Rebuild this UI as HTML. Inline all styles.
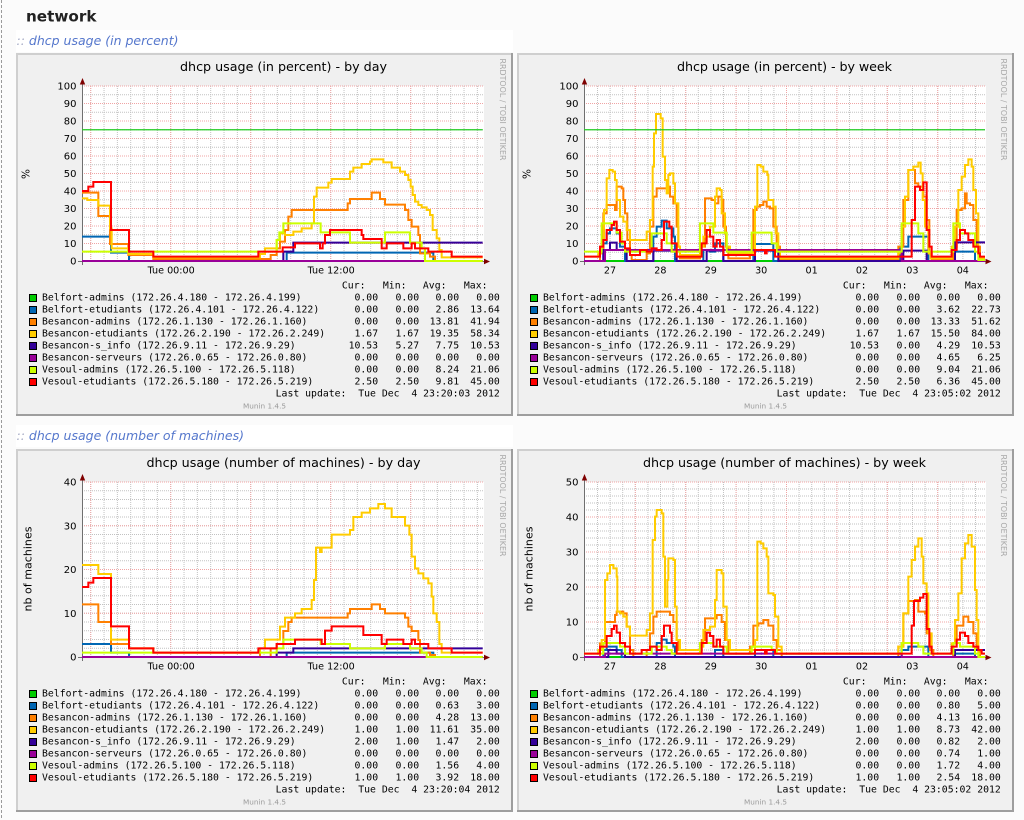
<!DOCTYPE html>
<html><head><meta charset="utf-8">
<style>
html,body{margin:0;padding:0;background:#fbfbfb;width:1024px;height:820px;overflow:hidden}
svg{display:block}
</style></head>
<body>
<svg width="1024" height="820" viewBox="0 0 1024 820" xmlns="http://www.w3.org/2000/svg">
<defs>
<pattern id="pv" patternUnits="userSpaceOnUse" x="0" y="0" width="8" height="2"><rect x="0" y="0" width="8" height="1" fill="#fff"/></pattern>
<pattern id="ph" patternUnits="userSpaceOnUse" x="0" y="0" width="2" height="8"><rect x="0" y="0" width="1" height="8" fill="#fff"/></pattern>
<mask id="mv" maskUnits="userSpaceOnUse" x="0" y="0" width="1024" height="820"><rect width="1024" height="820" fill="url(#pv)"/></mask>
<mask id="mh" maskUnits="userSpaceOnUse" x="0" y="0" width="1024" height="820"><rect width="1024" height="820" fill="url(#ph)"/></mask>
</defs>

<!-- page -->
<line x1="1.5" y1="0" x2="1.5" y2="820" stroke="#9a9a9a" stroke-dasharray="3 2"/>
<text x="26" y="21.7" font-family="'DejaVu Sans','Liberation Sans',sans-serif" font-weight="bold" font-size="15.2" fill="#222">network</text>
<rect x="16" y="30" width="497" height="22" fill="#fff"/>
<rect x="16" y="425" width="497" height="22" fill="#fff"/>
<text x="16.5" y="45" font-family="'DejaVu Sans','Liberation Sans',sans-serif" font-style="italic" font-size="12.5"><tspan fill="#a4aac4">::&#160;</tspan><tspan fill="#5577cc">dhcp usage (in percent)</tspan></text>
<text x="16.5" y="440" font-family="'DejaVu Sans','Liberation Sans',sans-serif" font-style="italic" font-size="12.5"><tspan fill="#a4aac4">::&#160;</tspan><tspan fill="#5577cc">dhcp usage (number of machines)</tspan></text>

<!-- ============ FRAMES + LEGENDS ============ -->
<g id="frameA" transform="translate(16,53)">
<rect width="497" height="363" fill="#f0f0f0"/>
<rect width="497" height="2" fill="#cfcfcf"/><rect width="2" height="363" fill="#cfcfcf"/>
<rect y="361" width="497" height="2" fill="#9e9e9e"/><rect x="495" width="2" height="363" fill="#9e9e9e"/>
<text x="267.5" y="18" text-anchor="middle" font-family="'DejaVu Sans','Liberation Sans',sans-serif" font-size="12.7" textLength="207" fill="#000">dhcp usage (in percent) - by day</text>
<text transform="translate(484,5.5) rotate(90)" font-family="'DejaVu Sans','Liberation Sans',sans-serif" font-size="7.9" textLength="102" fill="#a8a8a8">RRDTOOL / TOBI OETIKER</text>
<text transform="translate(13.3,121) rotate(-90)" text-anchor="middle" font-family="'DejaVu Sans','Liberation Sans',sans-serif" font-size="10.5" fill="#000">%</text>
<g font-family="'DejaVu Sans Mono','Liberation Mono',monospace" font-size="9.8" fill="#000">
<text y="235.7" text-anchor="end"><tspan x="349.5">Cur:</tspan><tspan x="390.5">Min:</tspan><tspan x="430.5">Avg:</tspan><tspan x="471.5">Max:</tspan></text>
<g stroke="#000" stroke-width="1">
<rect x="13.5" y="241.5" width="7" height="7" fill="#00cc00"/>
<rect x="13.5" y="253.5" width="7" height="7" fill="#0066b3"/>
<rect x="13.5" y="265.5" width="7" height="7" fill="#ff8000"/>
<rect x="13.5" y="277.5" width="7" height="7" fill="#ffcc00"/>
<rect x="13.5" y="289.5" width="7" height="7" fill="#330099"/>
<rect x="13.5" y="301.5" width="7" height="7" fill="#990099"/>
<rect x="13.5" y="313.5" width="7" height="7" fill="#ccff00"/>
<rect x="13.5" y="325.5" width="7" height="7" fill="#ff0000"/>
</g>
<text x="26" y="247.7">Belfort-admins (172.26.4.180 - 172.26.4.199)</text>
<text x="26" y="259.7">Belfort-etudiants (172.26.4.101 - 172.26.4.122)</text>
<text x="26" y="271.7">Besancon-admins (172.26.1.130 - 172.26.1.160)</text>
<text x="26" y="283.7">Besancon-etudiants (172.26.2.190 - 172.26.2.249)</text>
<text x="26" y="295.7">Besancon-s_info (172.26.9.11 - 172.26.9.29)</text>
<text x="26" y="307.7">Besancon-serveurs (172.26.0.65 - 172.26.0.80)</text>
<text x="26" y="319.7">Vesoul-admins (172.26.5.100 - 172.26.5.118)</text>
<text x="26" y="331.7">Vesoul-etudiants (172.26.5.180 - 172.26.5.219)</text>
<g text-anchor="end">
<text y="247.7"><tspan x="362.1">0.00</tspan><tspan x="403.1">0.00</tspan><tspan x="443.1">0.00</tspan><tspan x="483.8">0.00</tspan></text>
<text y="259.7"><tspan x="362.1">0.00</tspan><tspan x="403.1">0.00</tspan><tspan x="443.1">2.86</tspan><tspan x="483.8">13.64</tspan></text>
<text y="271.7"><tspan x="362.1">0.00</tspan><tspan x="403.1">0.00</tspan><tspan x="443.1">13.81</tspan><tspan x="483.8">41.94</tspan></text>
<text y="283.7"><tspan x="362.1">1.67</tspan><tspan x="403.1">1.67</tspan><tspan x="443.1">19.35</tspan><tspan x="483.8">58.34</tspan></text>
<text y="295.7"><tspan x="362.1">10.53</tspan><tspan x="403.1">5.27</tspan><tspan x="443.1">7.75</tspan><tspan x="483.8">10.53</tspan></text>
<text y="307.7"><tspan x="362.1">0.00</tspan><tspan x="403.1">0.00</tspan><tspan x="443.1">0.00</tspan><tspan x="483.8">0.00</tspan></text>
<text y="319.7"><tspan x="362.1">0.00</tspan><tspan x="403.1">0.00</tspan><tspan x="443.1">8.24</tspan><tspan x="483.8">21.06</tspan></text>
<text y="331.7"><tspan x="362.1">2.50</tspan><tspan x="403.1">2.50</tspan><tspan x="443.1">9.81</tspan><tspan x="483.8">45.00</tspan></text>
<text x="483.8" y="343.7">Last update:&#160;&#160;Tue Dec&#160;&#160;4 23:20:03 2012</text>
</g>
</g>
<text x="248.5" y="355.3" text-anchor="middle" font-family="'DejaVu Sans','Liberation Sans',sans-serif" font-size="7.3" fill="#9a9a9a">Munin 1.4.5</text>
</g>

<g id="frameB" transform="translate(517,53)">
<rect width="497" height="363" fill="#f0f0f0"/>
<rect width="497" height="2" fill="#cfcfcf"/><rect width="2" height="363" fill="#cfcfcf"/>
<rect y="361" width="497" height="2" fill="#9e9e9e"/><rect x="495" width="2" height="363" fill="#9e9e9e"/>
<text x="267.5" y="18" text-anchor="middle" font-family="'DejaVu Sans','Liberation Sans',sans-serif" font-size="12.7" textLength="215" fill="#000">dhcp usage (in percent) - by week</text>
<text transform="translate(484,5.5) rotate(90)" font-family="'DejaVu Sans','Liberation Sans',sans-serif" font-size="7.9" textLength="102" fill="#a8a8a8">RRDTOOL / TOBI OETIKER</text>
<text transform="translate(13.3,121) rotate(-90)" text-anchor="middle" font-family="'DejaVu Sans','Liberation Sans',sans-serif" font-size="10.5" fill="#000">%</text>
<g font-family="'DejaVu Sans Mono','Liberation Mono',monospace" font-size="9.8" fill="#000">
<text y="235.7" text-anchor="end"><tspan x="349.5">Cur:</tspan><tspan x="390.5">Min:</tspan><tspan x="430.5">Avg:</tspan><tspan x="471.5">Max:</tspan></text>
<g stroke="#000" stroke-width="1">
<rect x="13.5" y="241.5" width="7" height="7" fill="#00cc00"/>
<rect x="13.5" y="253.5" width="7" height="7" fill="#0066b3"/>
<rect x="13.5" y="265.5" width="7" height="7" fill="#ff8000"/>
<rect x="13.5" y="277.5" width="7" height="7" fill="#ffcc00"/>
<rect x="13.5" y="289.5" width="7" height="7" fill="#330099"/>
<rect x="13.5" y="301.5" width="7" height="7" fill="#990099"/>
<rect x="13.5" y="313.5" width="7" height="7" fill="#ccff00"/>
<rect x="13.5" y="325.5" width="7" height="7" fill="#ff0000"/>
</g>
<text x="26" y="247.7">Belfort-admins (172.26.4.180 - 172.26.4.199)</text>
<text x="26" y="259.7">Belfort-etudiants (172.26.4.101 - 172.26.4.122)</text>
<text x="26" y="271.7">Besancon-admins (172.26.1.130 - 172.26.1.160)</text>
<text x="26" y="283.7">Besancon-etudiants (172.26.2.190 - 172.26.2.249)</text>
<text x="26" y="295.7">Besancon-s_info (172.26.9.11 - 172.26.9.29)</text>
<text x="26" y="307.7">Besancon-serveurs (172.26.0.65 - 172.26.0.80)</text>
<text x="26" y="319.7">Vesoul-admins (172.26.5.100 - 172.26.5.118)</text>
<text x="26" y="331.7">Vesoul-etudiants (172.26.5.180 - 172.26.5.219)</text>
<g text-anchor="end">
<text y="247.7"><tspan x="362.1">0.00</tspan><tspan x="403.1">0.00</tspan><tspan x="443.1">0.00</tspan><tspan x="483.8">0.00</tspan></text>
<text y="259.7"><tspan x="362.1">0.00</tspan><tspan x="403.1">0.00</tspan><tspan x="443.1">3.62</tspan><tspan x="483.8">22.73</tspan></text>
<text y="271.7"><tspan x="362.1">0.00</tspan><tspan x="403.1">0.00</tspan><tspan x="443.1">13.33</tspan><tspan x="483.8">51.62</tspan></text>
<text y="283.7"><tspan x="362.1">1.67</tspan><tspan x="403.1">1.67</tspan><tspan x="443.1">15.50</tspan><tspan x="483.8">84.00</tspan></text>
<text y="295.7"><tspan x="362.1">10.53</tspan><tspan x="403.1">0.00</tspan><tspan x="443.1">4.29</tspan><tspan x="483.8">10.53</tspan></text>
<text y="307.7"><tspan x="362.1">0.00</tspan><tspan x="403.1">0.00</tspan><tspan x="443.1">4.65</tspan><tspan x="483.8">6.25</tspan></text>
<text y="319.7"><tspan x="362.1">0.00</tspan><tspan x="403.1">0.00</tspan><tspan x="443.1">9.04</tspan><tspan x="483.8">21.06</tspan></text>
<text y="331.7"><tspan x="362.1">2.50</tspan><tspan x="403.1">2.50</tspan><tspan x="443.1">6.36</tspan><tspan x="483.8">45.00</tspan></text>
<text x="483.8" y="343.7">Last update:&#160;&#160;Tue Dec&#160;&#160;4 23:05:02 2012</text>
</g>
</g>
<text x="248.5" y="355.3" text-anchor="middle" font-family="'DejaVu Sans','Liberation Sans',sans-serif" font-size="7.3" fill="#9a9a9a">Munin 1.4.5</text>
</g>

<g id="frameC" transform="translate(16,449)">
<rect width="497" height="363" fill="#f0f0f0"/>
<rect width="497" height="2" fill="#cfcfcf"/><rect width="2" height="363" fill="#cfcfcf"/>
<rect y="361" width="497" height="2" fill="#9e9e9e"/><rect x="495" width="2" height="363" fill="#9e9e9e"/>
<text x="267.5" y="18" text-anchor="middle" font-family="'DejaVu Sans','Liberation Sans',sans-serif" font-size="12.7" textLength="274" fill="#000">dhcp usage (number of machines) - by day</text>
<text transform="translate(484,5.5) rotate(90)" font-family="'DejaVu Sans','Liberation Sans',sans-serif" font-size="7.9" textLength="102" fill="#a8a8a8">RRDTOOL / TOBI OETIKER</text>
<text transform="translate(15.7,120) rotate(-90)" text-anchor="middle" font-family="'DejaVu Sans','Liberation Sans',sans-serif" font-size="11" textLength="85" fill="#000">nb of machines</text>
<g font-family="'DejaVu Sans Mono','Liberation Mono',monospace" font-size="9.8" fill="#000">
<text y="235.7" text-anchor="end"><tspan x="349.5">Cur:</tspan><tspan x="390.5">Min:</tspan><tspan x="430.5">Avg:</tspan><tspan x="471.5">Max:</tspan></text>
<g stroke="#000" stroke-width="1">
<rect x="13.5" y="241.5" width="7" height="7" fill="#00cc00"/>
<rect x="13.5" y="253.5" width="7" height="7" fill="#0066b3"/>
<rect x="13.5" y="265.5" width="7" height="7" fill="#ff8000"/>
<rect x="13.5" y="277.5" width="7" height="7" fill="#ffcc00"/>
<rect x="13.5" y="289.5" width="7" height="7" fill="#330099"/>
<rect x="13.5" y="301.5" width="7" height="7" fill="#990099"/>
<rect x="13.5" y="313.5" width="7" height="7" fill="#ccff00"/>
<rect x="13.5" y="325.5" width="7" height="7" fill="#ff0000"/>
</g>
<text x="26" y="247.7">Belfort-admins (172.26.4.180 - 172.26.4.199)</text>
<text x="26" y="259.7">Belfort-etudiants (172.26.4.101 - 172.26.4.122)</text>
<text x="26" y="271.7">Besancon-admins (172.26.1.130 - 172.26.1.160)</text>
<text x="26" y="283.7">Besancon-etudiants (172.26.2.190 - 172.26.2.249)</text>
<text x="26" y="295.7">Besancon-s_info (172.26.9.11 - 172.26.9.29)</text>
<text x="26" y="307.7">Besancon-serveurs (172.26.0.65 - 172.26.0.80)</text>
<text x="26" y="319.7">Vesoul-admins (172.26.5.100 - 172.26.5.118)</text>
<text x="26" y="331.7">Vesoul-etudiants (172.26.5.180 - 172.26.5.219)</text>
<g text-anchor="end">
<text y="247.7"><tspan x="362.1">0.00</tspan><tspan x="403.1">0.00</tspan><tspan x="443.1">0.00</tspan><tspan x="483.8">0.00</tspan></text>
<text y="259.7"><tspan x="362.1">0.00</tspan><tspan x="403.1">0.00</tspan><tspan x="443.1">0.63</tspan><tspan x="483.8">3.00</tspan></text>
<text y="271.7"><tspan x="362.1">0.00</tspan><tspan x="403.1">0.00</tspan><tspan x="443.1">4.28</tspan><tspan x="483.8">13.00</tspan></text>
<text y="283.7"><tspan x="362.1">1.00</tspan><tspan x="403.1">1.00</tspan><tspan x="443.1">11.61</tspan><tspan x="483.8">35.00</tspan></text>
<text y="295.7"><tspan x="362.1">2.00</tspan><tspan x="403.1">1.00</tspan><tspan x="443.1">1.47</tspan><tspan x="483.8">2.00</tspan></text>
<text y="307.7"><tspan x="362.1">0.00</tspan><tspan x="403.1">0.00</tspan><tspan x="443.1">0.00</tspan><tspan x="483.8">0.00</tspan></text>
<text y="319.7"><tspan x="362.1">0.00</tspan><tspan x="403.1">0.00</tspan><tspan x="443.1">1.56</tspan><tspan x="483.8">4.00</tspan></text>
<text y="331.7"><tspan x="362.1">1.00</tspan><tspan x="403.1">1.00</tspan><tspan x="443.1">3.92</tspan><tspan x="483.8">18.00</tspan></text>
<text x="483.8" y="343.7">Last update:&#160;&#160;Tue Dec&#160;&#160;4 23:20:04 2012</text>
</g>
</g>
<text x="248.5" y="355.3" text-anchor="middle" font-family="'DejaVu Sans','Liberation Sans',sans-serif" font-size="7.3" fill="#9a9a9a">Munin 1.4.5</text>
</g>

<g id="frameD" transform="translate(517,449)">
<rect width="497" height="363" fill="#f0f0f0"/>
<rect width="497" height="2" fill="#cfcfcf"/><rect width="2" height="363" fill="#cfcfcf"/>
<rect y="361" width="497" height="2" fill="#9e9e9e"/><rect x="495" width="2" height="363" fill="#9e9e9e"/>
<text x="267.5" y="18" text-anchor="middle" font-family="'DejaVu Sans','Liberation Sans',sans-serif" font-size="12.7" textLength="283" fill="#000">dhcp usage (number of machines) - by week</text>
<text transform="translate(484,5.5) rotate(90)" font-family="'DejaVu Sans','Liberation Sans',sans-serif" font-size="7.9" textLength="102" fill="#a8a8a8">RRDTOOL / TOBI OETIKER</text>
<text transform="translate(15.7,120) rotate(-90)" text-anchor="middle" font-family="'DejaVu Sans','Liberation Sans',sans-serif" font-size="11" textLength="85" fill="#000">nb of machines</text>
<g font-family="'DejaVu Sans Mono','Liberation Mono',monospace" font-size="9.8" fill="#000">
<text y="235.7" text-anchor="end"><tspan x="349.5">Cur:</tspan><tspan x="390.5">Min:</tspan><tspan x="430.5">Avg:</tspan><tspan x="471.5">Max:</tspan></text>
<g stroke="#000" stroke-width="1">
<rect x="13.5" y="241.5" width="7" height="7" fill="#00cc00"/>
<rect x="13.5" y="253.5" width="7" height="7" fill="#0066b3"/>
<rect x="13.5" y="265.5" width="7" height="7" fill="#ff8000"/>
<rect x="13.5" y="277.5" width="7" height="7" fill="#ffcc00"/>
<rect x="13.5" y="289.5" width="7" height="7" fill="#330099"/>
<rect x="13.5" y="301.5" width="7" height="7" fill="#990099"/>
<rect x="13.5" y="313.5" width="7" height="7" fill="#ccff00"/>
<rect x="13.5" y="325.5" width="7" height="7" fill="#ff0000"/>
</g>
<text x="26" y="247.7">Belfort-admins (172.26.4.180 - 172.26.4.199)</text>
<text x="26" y="259.7">Belfort-etudiants (172.26.4.101 - 172.26.4.122)</text>
<text x="26" y="271.7">Besancon-admins (172.26.1.130 - 172.26.1.160)</text>
<text x="26" y="283.7">Besancon-etudiants (172.26.2.190 - 172.26.2.249)</text>
<text x="26" y="295.7">Besancon-s_info (172.26.9.11 - 172.26.9.29)</text>
<text x="26" y="307.7">Besancon-serveurs (172.26.0.65 - 172.26.0.80)</text>
<text x="26" y="319.7">Vesoul-admins (172.26.5.100 - 172.26.5.118)</text>
<text x="26" y="331.7">Vesoul-etudiants (172.26.5.180 - 172.26.5.219)</text>
<g text-anchor="end">
<text y="247.7"><tspan x="362.1">0.00</tspan><tspan x="403.1">0.00</tspan><tspan x="443.1">0.00</tspan><tspan x="483.8">0.00</tspan></text>
<text y="259.7"><tspan x="362.1">0.00</tspan><tspan x="403.1">0.00</tspan><tspan x="443.1">0.80</tspan><tspan x="483.8">5.00</tspan></text>
<text y="271.7"><tspan x="362.1">0.00</tspan><tspan x="403.1">0.00</tspan><tspan x="443.1">4.13</tspan><tspan x="483.8">16.00</tspan></text>
<text y="283.7"><tspan x="362.1">1.00</tspan><tspan x="403.1">1.00</tspan><tspan x="443.1">8.73</tspan><tspan x="483.8">42.00</tspan></text>
<text y="295.7"><tspan x="362.1">2.00</tspan><tspan x="403.1">0.00</tspan><tspan x="443.1">0.82</tspan><tspan x="483.8">2.00</tspan></text>
<text y="307.7"><tspan x="362.1">0.00</tspan><tspan x="403.1">0.00</tspan><tspan x="443.1">0.74</tspan><tspan x="483.8">1.00</tspan></text>
<text y="319.7"><tspan x="362.1">0.00</tspan><tspan x="403.1">0.00</tspan><tspan x="443.1">1.72</tspan><tspan x="483.8">4.00</tspan></text>
<text y="331.7"><tspan x="362.1">1.00</tspan><tspan x="403.1">1.00</tspan><tspan x="443.1">2.54</tspan><tspan x="483.8">18.00</tspan></text>
<text x="483.8" y="343.7">Last update:&#160;&#160;Tue Dec&#160;&#160;4 23:05:02 2012</text>
</g>
</g>
<text x="248.5" y="355.3" text-anchor="middle" font-family="'DejaVu Sans','Liberation Sans',sans-serif" font-size="7.3" fill="#9a9a9a">Munin 1.4.5</text>
</g>

<!-- ============ CANVASES + GRIDS ============ -->
<rect x="83" y="86" width="401" height="175" fill="#fff"/>
<rect x="585" y="86" width="401" height="175" fill="#fff"/>
<rect x="83" y="482" width="401" height="175" fill="#fff"/>
<rect x="585" y="482" width="401" height="175" fill="#fff"/>

<g mask="url(#mv)" fill="none">
<path d="M90.2 173.5H483" stroke="#c2c2c2" stroke-width="175" stroke-dasharray="1 12.333"/>
<path d="M90.2 173.5H483" stroke="#f0a4a4" stroke-width="175" stroke-dasharray="1 79"/>
<path d="M597 173.5H985" stroke="#c2c2c2" stroke-width="175" stroke-dasharray="1 11.6"/>
<path d="M634.8 173.5H985" stroke="#f0a4a4" stroke-width="175" stroke-dasharray="1 49.4"/>
<path d="M90.2 569.5H483" stroke="#c2c2c2" stroke-width="175" stroke-dasharray="1 12.333"/>
<path d="M90.2 569.5H483" stroke="#f0a4a4" stroke-width="175" stroke-dasharray="1 79"/>
<path d="M597 569.5H985" stroke="#c2c2c2" stroke-width="175" stroke-dasharray="1 11.6"/>
<path d="M634.8 569.5H985" stroke="#f0a4a4" stroke-width="175" stroke-dasharray="1 49.4"/>
</g>
<g mask="url(#mh)" fill="none">
<path d="M283 85.5V260" stroke="#c2c2c2" stroke-width="402" stroke-dasharray="1 7.75"/>
<path d="M283 85.5V260" stroke="#f0a4a4" stroke-width="402" stroke-dasharray="1 16.5"/>
<path d="M785 85.5V260" stroke="#c2c2c2" stroke-width="402" stroke-dasharray="1 7.75"/>
<path d="M785 85.5V260" stroke="#f0a4a4" stroke-width="402" stroke-dasharray="1 16.5"/>
<path d="M283 481.5V656" stroke="#c2c2c2" stroke-width="402" stroke-dasharray="1 7.75"/>
<path d="M283 481.5V656" stroke="#f0a4a4" stroke-width="402" stroke-dasharray="1 42.75"/>
<path d="M785 481.5V656" stroke="#c2c2c2" stroke-width="402" stroke-dasharray="1 6"/>
<path d="M785 481.5V656" stroke="#f0a4a4" stroke-width="402" stroke-dasharray="1 34"/>
</g>

<!-- axes -->
<g stroke="#6f6f6f" stroke-width="1" fill="none">
<path d="M82.5 80V265M78 261.5H486"/>
<path d="M584.5 80V265M580 261.5H988"/>
<path d="M82.5 476V661M78 657.5H486"/>
<path d="M584.5 476V661M580 657.5H988"/>
</g>
<g fill="#7f0000">
<polygon points="82.5,78 79.8,84.5 85.2,84.5"/>
<polygon points="490,261.5 484,258.8 484,264.2"/>
<polygon points="584.5,78 581.8,84.5 587.2,84.5"/>
<polygon points="991.5,261.5 985.5,258.8 985.5,264.2"/>
<polygon points="82.5,474 79.8,480.5 85.2,480.5"/>
<polygon points="490,657.5 484,654.8 484,660.2"/>
<polygon points="584.5,474 581.8,480.5 587.2,480.5"/>
<polygon points="991.5,657.5 985.5,654.8 985.5,660.2"/>
</g>

<!-- tick labels -->
<g font-family="'DejaVu Sans','Liberation Sans',sans-serif" font-size="10" fill="#000" text-anchor="end">
<text x="76.5" y="264.5">0</text><text x="76.5" y="247">10</text><text x="76.5" y="229.5">20</text><text x="76.5" y="212">30</text><text x="76.5" y="194.5">40</text><text x="76.5" y="177">50</text><text x="76.5" y="159.5">60</text><text x="76.5" y="142">70</text><text x="76.5" y="124.5">80</text><text x="76.5" y="107">90</text><text x="76.5" y="89.5">100</text>
<text x="578.5" y="264.5">0</text><text x="578.5" y="247">10</text><text x="578.5" y="229.5">20</text><text x="578.5" y="212">30</text><text x="578.5" y="194.5">40</text><text x="578.5" y="177">50</text><text x="578.5" y="159.5">60</text><text x="578.5" y="142">70</text><text x="578.5" y="124.5">80</text><text x="578.5" y="107">90</text><text x="578.5" y="89.5">100</text>
<text x="76.5" y="660.5">0</text><text x="76.5" y="616.75">10</text><text x="76.5" y="573">20</text><text x="76.5" y="529.25">30</text><text x="76.5" y="485.5">40</text>
<text x="578.5" y="660.5">0</text><text x="578.5" y="625.5">10</text><text x="578.5" y="590.5">20</text><text x="578.5" y="555.5">30</text><text x="578.5" y="520.5">40</text><text x="578.5" y="485.5">50</text>
</g>
<g font-family="'DejaVu Sans','Liberation Sans',sans-serif" font-size="9.6" fill="#000" text-anchor="middle">
<text x="171.2" y="273.5">Tue 00:00</text><text x="331.2" y="273.5">Tue 12:00</text>
<text x="171.2" y="669.5">Tue 00:00</text><text x="331.2" y="669.5">Tue 12:00</text>
<text x="610" y="273.5">27</text><text x="660.4" y="273.5">28</text><text x="710.8" y="273.5">29</text><text x="761.2" y="273.5">30</text><text x="811.6" y="273.5">01</text><text x="862" y="273.5">02</text><text x="912.4" y="273.5">03</text><text x="962.8" y="273.5">04</text>
<text x="610" y="669.5">27</text><text x="660.4" y="669.5">28</text><text x="710.8" y="669.5">29</text><text x="761.2" y="669.5">30</text><text x="811.6" y="669.5">01</text><text x="862" y="669.5">02</text><text x="912.4" y="669.5">03</text><text x="962.8" y="669.5">04</text>
</g>

<!-- ============ SERIES A (day %) ============ -->
<g transform="scale(0.333333)" fill="none" stroke-width="6">
<path stroke="#00cc00" d="M246 783H1448"/>
<path stroke="#0066b3" d="M246 710H333V758H387V783H860V758H1300V783H1448"/>
<path stroke="#ff8000" d="M246 578H295V648H330V732H385V765H460V777H812V765H830V745H840V725H855V690H865V650H875V630H1043V610H1050V597H1115V578H1140V597H1155V614H1215V630H1225V660H1235V680H1255V705H1260V760H1290V770H1305V783H1448"/>
<path stroke="#ffcc00" d="M246 595H262V600H295V617H330V685H335V745H385V762H460V772H780V762H795V745H830V720H840V700H855V705H880V695H905V685H935V670H942V590H950V563H985V548H995V537H1050V515H1060V503H1085V492H1110V485H1115V478H1150V487H1175V503H1200V515H1215V525H1225V540H1232V560H1238V585H1245V605H1255V615H1265V622H1280V630H1290V645H1298V690H1310V715H1318V750H1325V772H1448"/>
<path stroke="#330099" d="M246 783H850V755H880V728H1448"/>
<path stroke="#990099" d="M246 783H1448"/>
<path stroke="#ccff00" d="M246 755H830V720H838V697H850V670H962V697H1050V728H1155V697H1230V728H1265V745H1275V783H1448"/>
<path stroke="#ff0000" d="M246 573H265V560H280V546H333V690H387V755H460V770H775V755H848V742H885V730H960V745H968V730H975V705H990V690H1085V705H1090V717H1145V745H1160V730H1210V745H1235V730H1245V745H1285V755H1355V770H1448"/>
<path stroke="#22cc22" stroke-width="3.5" d="M246 389.25H1448"/>
</g>

<!-- ============ SERIES B (week %) ============ -->
<g transform="translate(510,40) scale(0.333333)" fill="none" stroke-width="6">
<path stroke="#00cc00" d="M222 663H1425"/>
<path stroke="#0066b3" d="M222 663H280V610H290V580H300V565H320V580H330V620H345V663H430V590H440V560H455V542H470V565H490V590H495V663H580V630H600V635H615V610H640V663H730V612H790V663H1170V620H1195V590H1255V663H1330V635H1395V663H1425"/>
<path stroke="#ff8000" d="M222 663H270V640H280V520H290V495H315V510H320V440H335V445H340V480H345V520H352V600H360V645H365V660H410V640H420V560H430V470H440V445H475V440H480V470H490V490H500V560H505V620H510V655H570V620H585V475H605V480H615V490H625V470H635V480H640V560H648V620H655V655H720V640H730V510H740V500H750V495H760V485H770V500H780V505H790V560H800V620H810V660H1165V620H1180V480H1195V390H1210V390H1215V430H1225V440H1240V470H1250V540H1258V640H1265V660H1330V620H1340V510H1355V505H1365V460H1370V490H1380V495H1390V540H1400V620H1410V660H1425"/>
<path stroke="#ffcc00" d="M222 650H265V640H275V600H282V510H290V415H298V390H308V395H315V420H320V480H330V530H340V545H350V570H360V600H410V575H420V540H428V380H432V280H438V222H452V235H458V350H465V420H470V460H475V405H480V400H490V430H495V490H505V620H510V645H570V620H580V590H600V560H615V470H620V445H630V450H635V520H645V580H650V620H660V640H735V500H742V375H752V380H760V395H772V405H775V480H790V500H797V580H805V640H810V655H1165V640H1175V560H1185V470H1195V390H1210V380H1225V368H1232V400H1238V480H1245V560H1255V640H1262V655H1325V620H1335V560H1345V450H1355V410H1365V375H1375V358H1385V380H1390V450H1398V520H1405V640H1410V655H1425"/>
<path stroke="#330099" d="M222 663H280V630H300V608H320V630H350V663H430V632H500V663H590V632H640V663H735V632H805V663H1180V632H1250V663H1335V607H1425"/>
<path stroke="#990099" d="M222 663H285V630H1175V663H1425"/>
<path stroke="#ccff00" d="M222 635H275V550H320V578H335V610H345V635H425V580H470V610H485V635H570V550H610V578H650V635H725V578H785V610H800V635H1175V550H1225V580H1240V635H1330V550H1350V580H1395V635H1405V660H1425"/>
<path stroke="#ff0000" d="M222 650H270V620H280V600H290V570H305V555H312V545H320V570H330V605H345V625H360V645H390V630H410V635H425V625H440V630H455V600H462V545H478V560H485V610H500V650H575V610H590V570H600V590H610V620H620V600H630V620H640V645H735V630H765V640H770V630H795V650H1205V540H1215V440H1230V450H1240V427H1250V570H1258V620H1265V650H1325V630H1340V600H1350V570H1365V580H1375V600H1390V620H1405V640H1410V650H1425"/>
<path stroke="#22cc22" stroke-width="3.5" d="M222 269.25H1425"/>
</g>

<!-- ============ SERIES C (day machines) ============ -->
<g transform="translate(0,440) scale(0.333333)" fill="none" stroke-width="6">
<path stroke="#00cc00" d="M246 651H1448"/>
<path stroke="#0066b3" d="M246 612H333V638H387V651H860V638H1300V651H1448"/>
<path stroke="#ff8000" d="M246 493H295V546H333V612H387V625H460V638H780V651H812V625H830V612H850V573H865V546H875V533H1043V520H1050V507H1115V493H1140V507H1155V520H1215V533H1225V560H1235V573H1255V600H1260V638H1290V645H1305V651H1448"/>
<path stroke="#ffcc00" d="M246 375H295V402H333V599H387V625H460V638H780V625H795V599H840V560H855V533H885V520H905V507H935V480H942V420H948V323H960V336H965V323H995V284H1050V270H1060V231H1085V218H1110V205H1135V192H1155V205H1175V231H1215V257H1228V284H1235V350H1245V385H1255V400H1270V415H1285V430H1295V470H1300V520H1310V546H1318V612H1325V638H1448"/>
<path stroke="#330099" d="M246 651H830V638H880V625H1448"/>
<path stroke="#990099" d="M246 651H1448"/>
<path stroke="#ccff00" d="M246 638H830V625H850V599H962V612H1050V625H1155V612H1230V625H1265V638H1280V651H1448"/>
<path stroke="#ff0000" d="M246 441H265V428H280V414H333V559H387V625H460V638H775V625H830V612H885V599H965V612H975V572H995V559H1090V585H1145V612H1160V599H1210V612H1235V599H1245V612H1285V625H1355V638H1448"/>
</g>

<!-- ============ SERIES D (week machines) ============ -->
<g transform="translate(510,440) scale(0.333333)" fill="none" stroke-width="6">
<path stroke="#00cc00" d="M222 651H1425"/>
<path stroke="#0066b3" d="M222 651H280V630H290V620H320V630H335V651H440V609H455V599H470V609H490V620H495V651H615V630H640V651H735V630H790V651H1175V630H1195V620H1255V651H1330V641H1395V651H1425"/>
<path stroke="#ff8000" d="M222 651H270V610H285V546H315V525H320V515H340V520H350V560H360V630H370V651H410V630H420V580H430V530H440V515H480V525H490V546H500V600H505V630H575V600H585V535H620V525H635V546H645V600H655V641H720V620H730V557H745V550H760V540H775V557H790V600H800V630H815V651H1165V620H1180V520H1195V483H1215V480H1225V515H1245V520H1250V580H1260V630H1270V651H1330V610H1340V557H1360V530H1375V546H1390V580H1400V630H1410V651H1425"/>
<path stroke="#ffcc00" d="M222 641H265V630H275V600H285V420H292V400H300V375H310V385H320V410H322V515H330V520H340V530H350V560H360V587H410V570H420V520H428V300H435V230H440V210H455V220H460V350H465V500H472V420H475V355H490V360H495V500H500V600H510V630H570V620H580V570H600V560H615V480H620V390H635V400H640V500H650V600H660V630H735V600H742V305H752V310H760V325H770V350H775V460H790V465H795V530H805V620H815V641H1165V620H1180V520H1195V410H1205V360H1215V320H1225V295H1235V350H1240V430H1250V460H1255V580H1265V641H1325V610H1335V540H1345V460H1355V355H1365V310H1375V285H1385V320H1395V450H1400V540H1405V641H1425"/>
<path stroke="#330099" d="M222 651H295V630H320V641H345V651H1335V630H1425"/>
<path stroke="#990099" d="M222 651H285V641H1175V651H1425"/>
<path stroke="#ccff00" d="M222 641H280V609H330V620H345V641H425V620H470V630H485V641H570V609H610V620H650V641H725V620H785V630H800V641H1175V609H1225V620H1240V641H1330V609H1350V620H1395V641H1405V651H1425"/>
<path stroke="#ff0000" d="M222 641H270V620H290V588H305V567H312V557H320V578H330V609H345V620H360V641H395V630H420V620H440V630H455V588H462V557H480V578H485V609H500V641H575V609H590V578H600V588H610V620H620V599H630V620H640V641H735V630H765V641H770V630H795V641H1205V557H1212V483H1230V473H1240V462H1250V567H1258V620H1265V641H1325V620H1340V599H1350V578H1365V588H1375V609H1390V620H1405V630H1415V641H1425"/>
</g>

</svg>
</body></html>
